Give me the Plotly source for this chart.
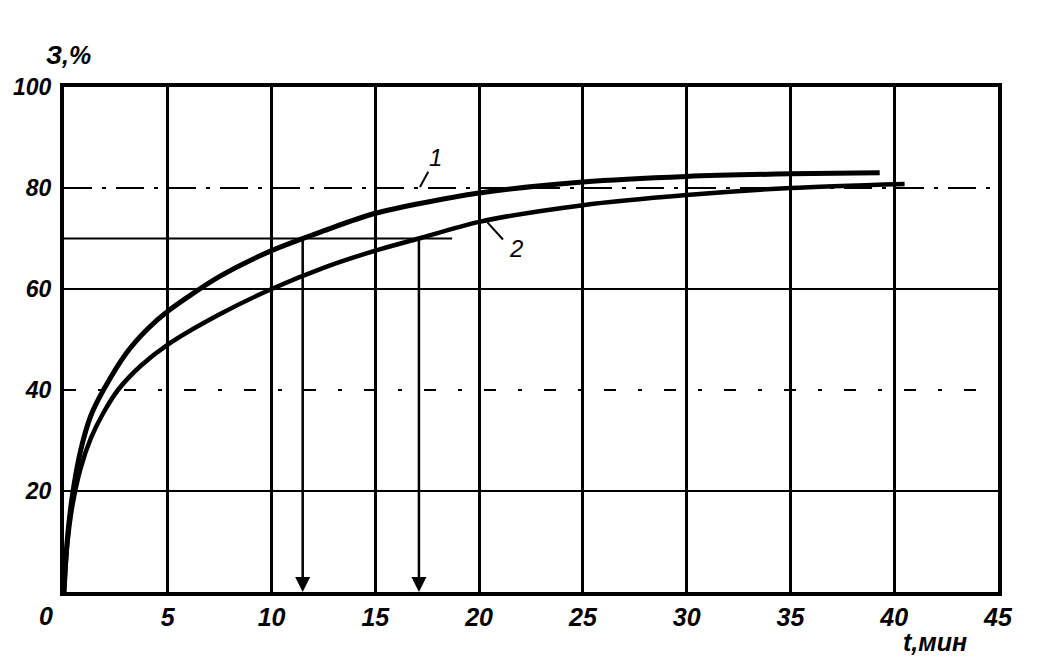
import plotly.graph_objects as go

# ---- data ----
t1 = [0, 0.15, 0.4, 0.8, 1.3, 1.9, 3, 4, 5, 7.5, 10, 12.5, 15, 20, 25, 30, 35, 39.3]
z1 = [0, 10, 19, 28, 35, 40, 47.3, 52, 55.6, 62.5, 67.6, 71.5, 75, 79, 81.2, 82.3, 82.8, 83]

t2 = [0, 0.15, 0.4, 0.8, 1.3, 1.9, 2.6, 3.7, 5, 7.5, 10, 12.5, 15, 17.1, 20, 25, 30, 35, 40.5]
z2 = [0, 9, 17, 24.5, 30.5, 35.5, 40, 44.8, 49, 55, 60, 64.2, 67.6, 70, 73.3, 76.6, 78.6, 80, 80.8]

x_ticks = [5, 10, 15, 20, 25, 30, 35, 40, 45]
x_tick_labels = ["5", "10", "15", "20", "25", "30", "35", "40", "45"]
y_ticks = [20, 40, 60, 80, 100]
y_tick_labels = ["20", "40", "60", "80", "100"]

solid_levels = [20, 60]
dashdot_levels = [80]
dotted_levels = [40]

level_70 = 70
level_70_end = 18.7
arrow_times = [11.5, 17.1]

curve_labels = ["1", "2"]
label_pos = [(17.9, 86.0), (21.8, 68.0)]
leader_1 = ([17.55, 17.15], [83.2, 80.2])
leader_2 = ([20.4, 21.15], [73.2, 69.8])

font_family = "Liberation Sans Narrow, Liberation Sans, Arial"
lab_font = dict(family=font_family, size=25, color="black", style="italic", weight="bold")
ytick_font = dict(family=font_family, size=23, color="black", style="italic", weight="bold")

fig = go.Figure()

# horizontal reference lines
for lv in solid_levels:
    fig.add_shape(type="line", xref="x", yref="y", x0=0, x1=45, y0=lv, y1=lv,
                  line=dict(color="black", width=2))
for lv in dashdot_levels:
    fig.add_shape(type="line", xref="x", yref="y", x0=0, x1=45, y0=lv, y1=lv,
                  line=dict(color="black", width=2, dash="28px,10px,4px,10px"))
for lv in dotted_levels:
    fig.add_shape(type="line", xref="x", yref="y", x0=0, x1=45, y0=lv, y1=lv,
                  line=dict(color="black", width=2, dash="12px,22px,4px,22px"))
fig.add_shape(type="line", xref="x", yref="y", x0=0, x1=level_70_end, y0=level_70, y1=level_70,
              line=dict(color="black", width=2))

# curves
fig.add_trace(go.Scatter(x=t1, y=z1, mode="lines",
                         line=dict(color="black", width=5, shape="spline", smoothing=0.8),
                         showlegend=False, hoverinfo="skip"))
fig.add_trace(go.Scatter(x=t2, y=z2, mode="lines",
                         line=dict(color="black", width=4.5, shape="spline", smoothing=0.8),
                         showlegend=False, hoverinfo="skip"))

# leaders
for lx, ly in (leader_1, leader_2):
    fig.add_trace(go.Scatter(x=lx, y=ly, mode="lines", line=dict(color="black", width=2),
                             showlegend=False, hoverinfo="skip"))

# arrows
for ta in arrow_times:
    fig.add_annotation(x=ta, y=0, ax=ta, ay=level_70, xref="x", yref="y", axref="x", ayref="y",
                       text="", showarrow=True, arrowhead=2, arrowsize=1.2, arrowwidth=2.5,
                       arrowcolor="black", standoff=0)

# curve labels
for txt, (lx, ly) in zip(curve_labels, label_pos):
    fig.add_annotation(x=lx, y=ly, xref="x", yref="y", text=txt, showarrow=False,
                       font=dict(family=font_family, size=24, color="black", style="italic"))

# axis titles / corner labels
fig.add_annotation(x=0, y=100, xref="x", yref="y", text="З,%", showarrow=False,
                   xshift=4, yshift=32, font=lab_font)
fig.add_annotation(x=45, y=0, xref="x", yref="y", text="t,мин", showarrow=False,
                   xshift=-63, yshift=-50, font=lab_font)
fig.add_annotation(x=0, y=0, xref="x", yref="y", text="0", showarrow=False,
                   xshift=-18, yshift=-24, font=lab_font)

fig.update_xaxes(range=[0, 45], tickvals=x_ticks, ticktext=x_tick_labels, showgrid=True,
                 gridcolor="black", gridwidth=3, showline=True, linecolor="black", linewidth=4,
                 mirror=True, ticks="", tickfont=lab_font, zeroline=False, automargin=False)
fig.update_yaxes(range=[0, 100], tickvals=y_ticks, ticktext=y_tick_labels, showgrid=False,
                 showline=True, linecolor="black", linewidth=4, mirror=True, ticks="",
                 tickfont=ytick_font, zeroline=False, ticklabelstandoff=4, automargin=False)

fig.update_layout(width=1037, height=666, margin=dict(l=56, r=47, t=79, b=82),
                  plot_bgcolor="white", paper_bgcolor="white")

fig.write_html("out.html")
